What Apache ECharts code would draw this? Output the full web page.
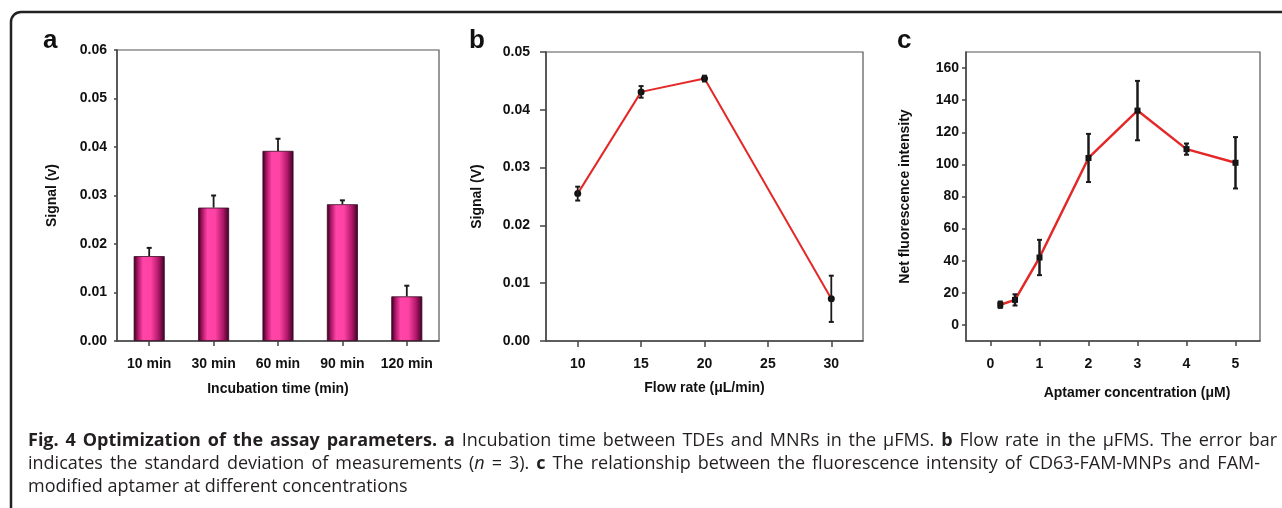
<!DOCTYPE html>
<html>
<head>
<meta charset="utf-8">
<script src="https://cdn.jsdelivr.net/npm/echarts@6/dist/echarts.min.js"></script>
<style>
  html, body { margin: 0; padding: 0; background: #fff; }
  #chart { width: 1282px; height: 508px; }
</style>
</head>
<body>
<div id="chart"></div>
<script>
// panel a: incubation time
const incubationLabels = ['10 min', '30 min', '60 min', '90 min', '120 min'];
const signalA = [0.0175, 0.0275, 0.0392, 0.0282, 0.0092];
const errA = [0.0017, 0.0025, 0.0025, 0.0008, 0.0022];

// panel b: flow rate
const flowRates = [10, 15, 20, 30];
const signalB = [0.0255, 0.0431, 0.0454, 0.0073];
const errB = [0.0012, 0.0010, 0.0005, 0.0040];
const flowTicks = [10, 15, 20, 25, 30];

// panel c: aptamer concentration
const aptConc = [0.2, 0.5, 1, 2, 3, 4, 5];
const fluor = [12.6, 15.6, 42, 104, 133.5, 109.5, 101];
const errC = [2, 3.5, 11, 15, 18.5, 3.5, 16];
const concTicks = [0, 1, 2, 3, 4, 5];
const fluorTicks = [0, 20, 40, 60, 80, 100, 120, 140, 160];

// caption, {b|..} bold, {i|..} italic
const captionLines = [
  '{b|Fig. 4 Optimization of the assay parameters. a} Incubation time between TDEs and MNRs in the μFMS. {b|b} Flow rate in the μFMS. The error bar',
  'indicates the standard deviation of measurements ({i|n} = 3). {b|c} The relationship between the fluorescence intensity of CD63-FAM-MNPs and FAM-',
  'modified aptamer at different concentrations'
];

const AX_FONT = '"Liberation Sans", Arial, sans-serif';
const CAP_FONT = '"Open Sans", "Noto Sans", sans-serif';
const CAP_SIZE = 18;
const CAP_COLOR = '#231f20';

const chart = echarts.init(document.getElementById('chart'));

const labelStyle = { color: '#111', fontFamily: AX_FONT, fontWeight: 'bold', fontSize: 14 };
const nameStyle = { color: '#111', fontFamily: AX_FONT, fontWeight: 'bold', fontSize: 14 };
const axisLine = { show: true, onZero: false, lineStyle: { color: '#444', width: 1.5 } };
const tick = (len) => ({ show: true, inside: false, length: len, lineStyle: { color: '#444', width: 1.5 } });

// error bar drawer, up only (a) or both ways (b, c)
function errorBar(upOnly, lw, cap) {
  return function (params, api) {
    const x = api.value(0), v = api.value(1), e = api.value(2);
    const lo = api.coord([x, upOnly ? v : v - e]);
    const hi = api.coord([x, v + e]);
    const kids = [
      { type: 'line', shape: { x1: lo[0], y1: lo[1], x2: hi[0], y2: hi[1] }, style: { stroke: '#1a1a1a', lineWidth: lw } },
      { type: 'line', shape: { x1: hi[0] - cap, y1: hi[1], x2: hi[0] + cap, y2: hi[1] }, style: { stroke: '#1a1a1a', lineWidth: 2 } }
    ];
    if (!upOnly) {
      kids.push({ type: 'line', shape: { x1: lo[0] - cap, y1: lo[1], x2: lo[0] + cap, y2: lo[1] }, style: { stroke: '#1a1a1a', lineWidth: 2 } });
    }
    return { type: 'group', children: kids };
  };
}

// caption: split into words and spread them so lines 1-2 are justified
const capFonts = {
  r: CAP_SIZE + 'px ' + CAP_FONT,
  b: 'bold ' + CAP_SIZE + 'px ' + CAP_FONT,
  i: 'italic ' + CAP_SIZE + 'px ' + CAP_FONT
};
const capRich = {
  r: { fontFamily: CAP_FONT, fontSize: CAP_SIZE, color: CAP_COLOR },
  b: { fontFamily: CAP_FONT, fontSize: CAP_SIZE, fontWeight: 'bold', color: CAP_COLOR },
  i: { fontFamily: CAP_FONT, fontSize: CAP_SIZE, fontStyle: 'italic', color: CAP_COLOR }
};
const ctx = document.createElement('canvas').getContext('2d');

function parseWords(line) {
  const re = /\{(\w)\|([^}]*)\}|([^{]+)/g;
  const words = [[]];
  let m;
  while ((m = re.exec(line))) {
    const style = m[1] || 'r';
    const txt = m[1] ? m[2] : m[3];
    txt.split(' ').forEach((p, k) => {
      if (k > 0) words.push([]);
      if (p) words[words.length - 1].push({ style, text: p });
    });
  }
  return words.filter((w) => w.length);
}

function captionGraphics(x0, rights, ys) {
  const out = [];
  captionLines.forEach((line, li) => {
    const words = parseWords(line);
    const widths = words.map((w) => w.reduce((s, f) => { ctx.font = capFonts[f.style]; return s + ctx.measureText(f.text).width; }, 0));
    const total = widths.reduce((a, b) => a + b, 0);
    ctx.font = capFonts.r;
    const gap = rights[li] ? (rights[li] - x0 - total) / (words.length - 1) : ctx.measureText(' ').width;
    let x = x0;
    words.forEach((w, k) => {
      out.push({
        type: 'text', x: x, y: ys[li], silent: true,
        style: {
          text: w.map((f) => '{' + f.style + '|' + f.text + '}').join(''),
          rich: capRich, verticalAlign: 'middle', fill: CAP_COLOR
        }
      });
      x += widths[k] + gap;
    });
  });
  return out;
}

const barGradient = new echarts.graphic.LinearGradient(0, 0, 1, 0, [
  { offset: 0, color: '#2a0018' },
  { offset: 0.12, color: '#a3125f' },
  { offset: 0.3, color: '#ff45a8' },
  { offset: 0.55, color: '#ff42a4' },
  { offset: 0.8, color: '#b0186a' },
  { offset: 1, color: '#3a0022' }
]);

const option = {
  animation: false,
  backgroundColor: '#fff',
  grid: [
    { left: 117, top: 50, width: 322, height: 291, show: true, borderColor: '#555', borderWidth: 1.2 },
    { left: 546, top: 52, width: 317, height: 289, show: true, borderColor: '#555', borderWidth: 1.2 },
    { left: 966, top: 52, width: 294, height: 289, show: true, borderColor: '#555', borderWidth: 1.2 }
  ],
  xAxis: [
    {
      gridIndex: 0, type: 'category', data: incubationLabels,
      name: 'Incubation time (min)', nameLocation: 'middle', nameGap: 41, nameTextStyle: nameStyle,
      axisLine: axisLine, axisTick: Object.assign(tick(5), { alignWithLabel: true, interval: 0 }),
      axisLabel: Object.assign({ margin: 16, interval: 0 }, labelStyle), splitLine: { show: false }
    },
    {
      gridIndex: 1, type: 'value', min: 7.5, max: 32.5,
      name: 'Flow rate (μL/min)', nameLocation: 'middle', nameGap: 40, nameTextStyle: nameStyle,
      axisLine: axisLine, axisTick: Object.assign(tick(6), { customValues: flowTicks }),
      axisLabel: Object.assign({ margin: 16, customValues: flowTicks }, labelStyle), splitLine: { show: false }
    },
    {
      gridIndex: 2, type: 'value', min: -0.5, max: 5.5,
      name: 'Aptamer concentration (μM)', nameLocation: 'middle', nameGap: 45,
      nameTextStyle: Object.assign({ padding: [0, 0, 0, 48] }, nameStyle),
      axisLine: axisLine, axisTick: Object.assign(tick(5), { customValues: concTicks }),
      axisLabel: Object.assign({ margin: 16, customValues: concTicks }, labelStyle), splitLine: { show: false }
    }
  ],
  yAxis: [
    {
      gridIndex: 0, type: 'value', min: 0, max: 0.06, interval: 0.01,
      name: 'Signal (v)', nameLocation: 'middle', nameGap: 58, nameTextStyle: nameStyle,
      axisLine: axisLine, axisTick: tick(3),
      axisLabel: Object.assign({ margin: 10, formatter: (v) => v.toFixed(2) }, labelStyle), splitLine: { show: false }
    },
    {
      gridIndex: 1, type: 'value', min: 0, max: 0.05, interval: 0.01,
      name: 'Signal (V)', nameLocation: 'middle', nameGap: 62, nameTextStyle: nameStyle,
      axisLine: axisLine, axisTick: tick(6),
      axisLabel: Object.assign({ margin: 16, formatter: (v) => v.toFixed(2) }, labelStyle), splitLine: { show: false }
    },
    {
      gridIndex: 2, type: 'value', min: -10, max: 170,
      name: 'Net fluorescence intensity', nameLocation: 'middle', nameGap: 54, nameTextStyle: nameStyle,
      axisLine: axisLine, axisTick: Object.assign(tick(4), { customValues: fluorTicks }),
      axisLabel: Object.assign({ margin: 7, customValues: fluorTicks }, labelStyle), splitLine: { show: false }
    }
  ],
  series: [
    {
      type: 'bar', xAxisIndex: 0, yAxisIndex: 0, data: signalA, barWidth: 31,
      itemStyle: { color: barGradient, borderColor: '#3a0a25', borderWidth: 0.8 }
    },
    {
      type: 'custom', xAxisIndex: 0, yAxisIndex: 0, renderItem: errorBar(true, 1.8, 2.5),
      data: signalA.map((v, i) => [i, v, errA[i]]), z: 5
    },
    {
      type: 'line', xAxisIndex: 1, yAxisIndex: 1, data: flowRates.map((x, i) => [x, signalB[i]]),
      lineStyle: { color: '#e42828', width: 2 }, symbol: 'circle', symbolSize: 7,
      itemStyle: { color: '#111' }, z: 3
    },
    {
      type: 'custom', xAxisIndex: 1, yAxisIndex: 1, renderItem: errorBar(false, 1.8, 2.5),
      data: flowRates.map((x, i) => [x, signalB[i], errB[i]]), z: 5
    },
    {
      type: 'line', xAxisIndex: 2, yAxisIndex: 2, data: aptConc.map((x, i) => [x, fluor[i]]),
      lineStyle: { color: '#e42828', width: 2.5 }, symbol: 'rect', symbolSize: 6,
      itemStyle: { color: '#111' }, z: 3
    },
    {
      type: 'custom', xAxisIndex: 2, yAxisIndex: 2, renderItem: errorBar(false, 2.5, 2.5),
      data: aptConc.map((x, i) => [x, fluor[i], errC[i]]), z: 5
    }
  ],
  graphic: [
    // outer figure frame
    { type: 'rect', shape: { x: 11, y: 12, width: 1320, height: 540, r: 10 }, style: { fill: 'none', stroke: '#222', lineWidth: 2.5 }, silent: true },
    { type: 'text', x: 43, y: 41, style: { text: 'a', font: 'bold 26px ' + AX_FONT, fill: '#111', verticalAlign: 'middle' } },
    { type: 'text', x: 469, y: 41, style: { text: 'b', font: 'bold 26px ' + AX_FONT, fill: '#111', verticalAlign: 'middle' } },
    { type: 'text', x: 897, y: 41, style: { text: 'c', font: 'bold 26px ' + AX_FONT, fill: '#111', verticalAlign: 'middle' } }
  ].concat(captionGraphics(28, [1277, 1260, 0], [441, 464, 487]))
};

chart.setOption(option);
</script>
</body>
</html>
